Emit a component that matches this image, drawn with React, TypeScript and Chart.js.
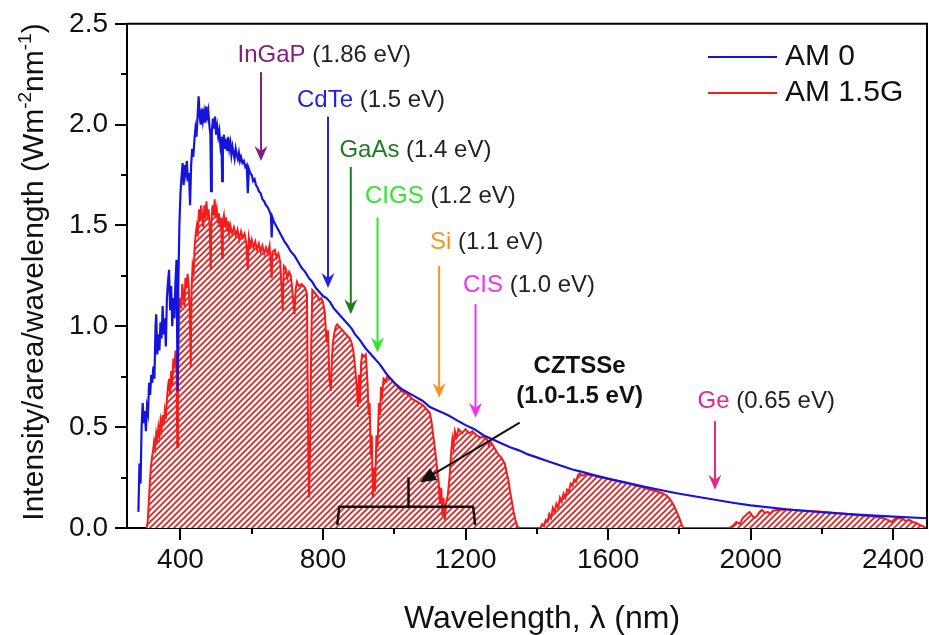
import React, { useEffect, useRef } from 'react';
import { Chart, registerables } from 'chart.js';
Chart.register(...registerables);

const FONT = "'Liberation Sans', Arial, Helvetica, sans-serif";

// ---- Data ----
const seriesLabels = ['AM 0', 'AM 1.5G'];

const am0Wavelengths = [
  282, 285, 288, 291, 294, 297, 300, 303, 306, 309, 312, 315, 318, 321, 324, 327, 330, 332, 335, 338,
  341, 344, 347, 350, 353, 356, 359, 362, 365, 368, 371, 374, 377, 380, 383, 386, 389, 392, 394, 397,
  400, 403, 406, 409, 412, 415, 418, 421, 424, 427, 430, 433, 436, 439, 442, 445, 448, 451, 454, 457,
  460, 463, 466, 469, 472, 475, 478, 481, 484, 486, 488, 491, 494, 497, 500, 503, 506, 509, 512, 515,
  517, 519, 522, 525, 528, 531, 534, 537, 540, 543, 546, 549, 552, 555, 558, 561, 564, 567, 570, 574,
  578, 582, 586, 589, 592, 596, 600, 604, 608, 612, 616, 620, 625, 630, 635, 640, 645, 650, 654, 656,
  658, 662, 668, 674, 680, 686, 692, 700, 710, 720, 730, 740, 750, 760, 770, 780, 790, 800, 810, 820,
  830, 840, 850, 860, 870, 880, 890, 900, 920, 940, 960, 980, 1000, 1020, 1040, 1060, 1080, 1100, 1125, 1150,
  1175, 1200, 1225, 1250, 1275, 1300, 1325, 1350, 1375, 1400, 1425, 1450, 1475, 1500, 1530, 1560, 1600, 1650, 1700, 1750,
  1800, 1850, 1900, 1950, 2000, 2100, 2200, 2300, 2400, 2500,
];
const am0Values = [
  0.08, 0.32, 0.22, 0.50, 0.62, 0.52, 0.58, 0.48, 0.60, 0.57, 0.72, 0.66, 0.76, 0.72, 0.80, 0.74, 1.00, 1.06, 0.86, 0.96,
  0.88, 1.02, 0.94, 1.10, 0.96, 1.04, 0.90, 1.14, 1.22, 1.28, 1.08, 1.20, 1.00, 1.14, 1.04, 1.22, 1.33, 0.68, 1.20, 1.50,
  1.66, 1.74, 1.81, 1.70, 1.80, 1.76, 1.82, 1.72, 1.76, 1.60, 1.80, 1.88, 1.84, 1.92, 1.98, 1.94, 2.04, 2.14, 2.04, 2.00,
  2.08, 2.02, 2.06, 2.01, 2.09, 2.04, 2.07, 2.00, 1.95, 1.67, 1.96, 2.03, 1.98, 2.04, 1.95, 1.99, 1.94, 1.97, 1.90, 1.94,
  1.72, 1.90, 1.95, 1.88, 1.93, 1.87, 1.94, 1.88, 1.91, 1.85, 1.89, 1.86, 1.83, 1.88, 1.85, 1.83, 1.86, 1.82, 1.84, 1.81,
  1.82, 1.79, 1.80, 1.66, 1.78, 1.76, 1.75, 1.72, 1.73, 1.70, 1.69, 1.67, 1.66, 1.63, 1.62, 1.60, 1.59, 1.57, 1.55, 1.44,
  1.54, 1.52, 1.50, 1.48, 1.46, 1.44, 1.42, 1.40, 1.37, 1.35, 1.32, 1.29, 1.27, 1.24, 1.22, 1.19, 1.17, 1.15, 1.14, 1.12,
  1.09, 1.07, 1.05, 1.03, 1.01, 0.99, 0.96, 0.94, 0.89, 0.85, 0.81, 0.76, 0.72, 0.69, 0.67, 0.65, 0.63, 0.60, 0.58, 0.56,
  0.535, 0.51, 0.49, 0.46, 0.44, 0.42, 0.40, 0.385, 0.365, 0.35, 0.335, 0.32, 0.305, 0.29, 0.277, 0.262, 0.245, 0.225, 0.205, 0.187,
  0.17, 0.155, 0.14, 0.125, 0.112, 0.093, 0.078, 0.066, 0.056, 0.048,
];

const am15Wavelengths = [
  305, 308, 311, 314, 317, 320, 323, 326, 329, 332, 335, 338, 341, 344, 347, 350, 353, 356, 359, 362,
  365, 368, 371, 374, 377, 380, 383, 386, 389, 391, 393, 396, 399, 402, 405, 408, 411, 414, 417, 420,
  423, 426, 429, 431, 434, 437, 440, 443, 446, 449, 452, 455, 458, 461, 464, 467, 470, 473, 476, 479,
  482, 485, 487, 490, 493, 496, 499, 502, 505, 508, 511, 514, 517, 519, 522, 525, 528, 531, 534, 537,
  540, 545, 550, 555, 560, 565, 570, 575, 580, 585, 589, 592, 596, 600, 605, 610, 615, 620, 625, 630,
  635, 640, 645, 650, 656, 658, 665, 670, 675, 680, 687, 690, 695, 700, 705, 710, 715, 720, 723, 727,
  732, 740, 745, 750, 755, 759, 761, 764, 767, 770, 775, 780, 785, 790, 795, 800, 805, 810, 814, 818,
  822, 825, 828, 832, 836, 840, 845, 850, 855, 860, 865, 870, 875, 880, 885, 890, 895, 898, 901, 904,
  907, 910, 915, 920, 925, 928, 931, 934, 937, 940, 943, 946, 950, 953, 957, 960, 963, 966, 970, 975,
  980, 990, 1000, 1010, 1020, 1030, 1040, 1050, 1060, 1070, 1080, 1090, 1100, 1105, 1110, 1115, 1120, 1125, 1128, 1132,
  1135, 1138, 1142, 1145, 1150, 1155, 1160, 1163, 1166, 1170, 1175, 1180, 1190, 1200, 1210, 1220, 1230, 1240, 1250, 1260,
  1265, 1270, 1280, 1290, 1300, 1310, 1315, 1320, 1325, 1330, 1335, 1340, 1345, 1350, 1410, 1415, 1420, 1425, 1430, 1435,
  1440, 1445, 1450, 1455, 1460, 1465, 1470, 1475, 1480, 1485, 1490, 1495, 1500, 1505, 1510, 1515, 1520, 1530, 1540, 1550,
  1560, 1570, 1580, 1590, 1600, 1620, 1640, 1660, 1680, 1700, 1720, 1740, 1755, 1765, 1775, 1785, 1795, 1802, 1808, 1812,
  1940, 1950, 1960, 1970, 1978, 1985, 1990, 1997, 2005, 2010, 2018, 2025, 2032, 2040, 2048, 2055, 2062, 2070, 2080, 2090,
  2110, 2130, 2150, 2170, 2190, 2210, 2230, 2250, 2270, 2290, 2310, 2330, 2350, 2370, 2385, 2395, 2405, 2415, 2425, 2435,
  2445, 2455, 2465, 2475, 2485, 2492,
];
const am15Values = [
  0.00, 0.03, 0.12, 0.22, 0.30, 0.35, 0.38, 0.43, 0.40, 0.47, 0.44, 0.50, 0.46, 0.53, 0.49, 0.56, 0.51, 0.58, 0.54, 0.64,
  0.70, 0.74, 0.66, 0.78, 0.71, 0.84, 0.79, 0.88, 0.82, 0.40, 0.72, 1.06, 1.14, 1.09, 1.21, 1.16, 1.10, 1.24, 1.19, 1.26,
  1.21, 1.08, 0.80, 1.18, 1.30, 1.27, 1.40, 1.46, 1.50, 1.47, 1.58, 1.52, 1.60, 1.55, 1.49, 1.60, 1.56, 1.62, 1.53, 1.58,
  1.50, 1.28, 1.52, 1.60, 1.55, 1.63, 1.54, 1.58, 1.51, 1.56, 1.49, 1.54, 1.34, 1.52, 1.55, 1.49, 1.54, 1.47, 1.52, 1.46,
  1.50, 1.46, 1.49, 1.45, 1.48, 1.43, 1.47, 1.44, 1.46, 1.41, 1.28, 1.44, 1.40, 1.43, 1.39, 1.42, 1.38, 1.41, 1.37, 1.40,
  1.36, 1.39, 1.36, 1.40, 1.24, 1.37, 1.38, 1.34, 1.36, 1.32, 1.08, 1.30, 1.29, 1.24, 1.27, 1.25, 1.16, 1.06, 1.18, 1.22,
  1.20, 1.21, 1.20, 1.19, 1.16, 0.32, 0.15, 0.42, 0.92, 1.18, 1.17, 1.16, 1.15, 1.13, 1.14, 1.12, 1.07, 0.92, 0.98, 0.74,
  0.68, 0.84, 0.92, 0.97, 1.00, 1.01, 1.00, 0.99, 0.98, 0.97, 0.96, 0.95, 0.94, 0.92, 0.88, 0.80, 0.70, 0.60, 0.76, 0.62,
  0.82, 0.86, 0.85, 0.86, 0.72, 0.56, 0.62, 0.36, 0.46, 0.15, 0.30, 0.18, 0.46, 0.40, 0.62, 0.56, 0.70, 0.66, 0.74, 0.73,
  0.75, 0.74, 0.72, 0.70, 0.68, 0.67, 0.66, 0.64, 0.63, 0.62, 0.61, 0.59, 0.57, 0.52, 0.45, 0.38, 0.30, 0.22, 0.12, 0.20,
  0.06, 0.15, 0.04, 0.12, 0.16, 0.25, 0.38, 0.44, 0.40, 0.48, 0.45, 0.49, 0.47, 0.49, 0.47, 0.48, 0.46, 0.45, 0.45, 0.44,
  0.41, 0.43, 0.40, 0.37, 0.35, 0.32, 0.28, 0.24, 0.18, 0.13, 0.08, 0.04, 0.01, 0.00, 0.00, 0.02, 0.01, 0.04, 0.03, 0.07,
  0.05, 0.10, 0.08, 0.12, 0.10, 0.15, 0.13, 0.17, 0.15, 0.19, 0.18, 0.22, 0.21, 0.24, 0.23, 0.26, 0.27, 0.26, 0.27, 0.26,
  0.262, 0.255, 0.25, 0.248, 0.243, 0.235, 0.228, 0.22, 0.21, 0.20, 0.19, 0.18, 0.17, 0.16, 0.14, 0.11, 0.07, 0.04, 0.01, 0.00,
  0.00, 0.01, 0.03, 0.02, 0.05, 0.06, 0.07, 0.08, 0.06, 0.05, 0.06, 0.08, 0.09, 0.075, 0.08, 0.07, 0.085, 0.088, 0.09, 0.092,
  0.09, 0.088, 0.086, 0.084, 0.082, 0.079, 0.076, 0.073, 0.07, 0.066, 0.062, 0.06, 0.056, 0.05, 0.04, 0.03, 0.045, 0.05, 0.048, 0.035,
  0.04, 0.03, 0.025, 0.015, 0.008, 0.00,
];

const xTickValues = [400, 800, 1200, 1600, 2000, 2400];
const xMinorTickValues = [600, 1000, 1400, 1800, 2200];
const yTickValues = [0, 0.5, 1.0, 1.5, 2.0, 2.5];
const yMinorTickValues = [0.25, 0.75, 1.25, 1.75, 2.25];

// band-gap annotations (anchored in data units)
const gapNames = ['InGaP', 'CdTe', 'GaAs', 'CIGS', 'Si', 'CIS', 'Ge'];
const gapEnergies = ['(1.86 eV)', '(1.5 eV)', '(1.4 eV)', '(1.2 eV)', '(1.1 eV)', '(1.0 eV)', '(0.65 eV)'];
const gapColors = ['#7f1f80', '#2323e6', '#1d7d1d', '#2ee62e', '#f7941e', '#f032f0', '#e8268a'];
const gapArrowX = [626, 814, 878, 953, 1126, 1228, 1900];
const gapArrowTop = [2.26, 2.04, 1.79, 1.54, 1.30, 1.11, 0.53];
const gapArrowTip = [1.82, 1.19, 1.06, 0.87, 0.645, 0.547, 0.19];
const gapLabelX = [560, 727, 846, 918, 1100, 1193, 1851];
const gapLabelY = [2.343, 2.118, 1.873, 1.644, 1.418, 1.202, 0.629];

const cztsLines = ['CZTSSe', '(1.0-1.5 eV)'];
const cztsTextX = 1520;
const cztsTextY = [0.80, 0.653];
const cztsArrowFrom = [1352, 0.522];
const cztsArrowTo = [1072, 0.227];
const bracketFrom = 840;
const bracketTo = 1227;
const bracketMid = 1040;
const bracketY = 0.105;
const bracketEndY = 0.015;
const bracketPeakY = 0.252;

function makeHatch(): CanvasPattern | string {
  const s = 6;
  const c = document.createElement('canvas');
  c.width = s;
  c.height = s;
  const g = c.getContext('2d');
  if (!g) return 'rgba(200,40,40,0.4)';
  g.fillStyle = '#fff4f4';
  g.fillRect(0, 0, s, s);
  g.strokeStyle = '#bb2e2e';
  g.lineWidth = 1.6;
  g.beginPath();
  g.moveTo(0, s); g.lineTo(s, 0);
  g.moveTo(-s / 2, s / 2); g.lineTo(s / 2, -s / 2);
  g.moveTo(s / 2, s * 1.5); g.lineTo(s * 1.5, s / 2);
  g.stroke();
  return g.createPattern(c, 'repeat') || 'rgba(200,40,40,0.4)';
}

function arrowHead(ctx: CanvasRenderingContext2D, x: number, y: number, ang: number, len: number, half: number, notch: number) {
  ctx.save();
  ctx.translate(x, y);
  ctx.rotate(ang);
  ctx.beginPath();
  ctx.moveTo(0, 0);
  ctx.lineTo(-len, -half);
  ctx.lineTo(-len + notch, 0);
  ctx.lineTo(-len, half);
  ctx.closePath();
  ctx.fill();
  ctx.restore();
}

const overlayPlugin = {
  id: 'overlay',
  afterDraw(chart: any) {
    const { ctx, chartArea: a, scales } = chart;
    const xs = scales.x;
    const ys = scales.y;
    const px = (v: number) => xs.getPixelForValue(v);
    const py = (v: number) => ys.getPixelForValue(v);
    ctx.save();

    // frame top/right
    ctx.strokeStyle = '#000';
    ctx.lineWidth = 2;
    ctx.beginPath();
    ctx.moveTo(a.left, a.top);
    ctx.lineTo(a.right, a.top);
    ctx.lineTo(a.right, a.bottom);
    ctx.stroke();

    // minor ticks
    ctx.beginPath();
    xMinorTickValues.forEach((v) => {
      const X = Math.round(px(v));
      ctx.moveTo(X, a.bottom);
      ctx.lineTo(X, a.bottom + 6);
    });
    yMinorTickValues.forEach((v) => {
      const Y = Math.round(py(v));
      ctx.moveTo(a.left, Y);
      ctx.lineTo(a.left - 6, Y);
    });
    ctx.stroke();

    // band-gap arrows & labels
    ctx.textBaseline = 'middle';
    ctx.textAlign = 'left';
    gapNames.forEach((name, i) => {
      const col = gapColors[i];
      const X = px(gapArrowX[i]);
      const y0 = py(gapArrowTop[i]);
      const y1 = py(gapArrowTip[i]);
      ctx.strokeStyle = col;
      ctx.fillStyle = col;
      ctx.lineWidth = 2;
      ctx.beginPath();
      ctx.moveTo(X, y0);
      ctx.lineTo(X, y1 - 8);
      ctx.stroke();
      arrowHead(ctx, X, y1, Math.PI / 2, 15, 6.5, 5);
      ctx.font = `24px ${FONT}`;
      const lx = px(gapLabelX[i]);
      const ly = py(gapLabelY[i]);
      ctx.fillText(name, lx, ly);
      const w = ctx.measureText(name + ' ').width;
      ctx.fillStyle = '#222';
      ctx.fillText(gapEnergies[i], lx + w, ly);
    });

    // CZTSSe
    ctx.fillStyle = '#111';
    ctx.textAlign = 'center';
    ctx.font = `bold 24px ${FONT}`;
    cztsLines.forEach((t, i) => ctx.fillText(t, px(cztsTextX), py(cztsTextY[i])));
    const ax0 = px(cztsArrowFrom[0]);
    const ay0 = py(cztsArrowFrom[1]);
    const ax1 = px(cztsArrowTo[0]);
    const ay1 = py(cztsArrowTo[1]);
    const ang = Math.atan2(ay1 - ay0, ax1 - ax0);
    ctx.strokeStyle = '#111';
    ctx.lineWidth = 2;
    ctx.beginPath();
    ctx.moveTo(ax0, ay0);
    ctx.lineTo(ax1 - Math.cos(ang) * 10, ay1 - Math.sin(ang) * 10);
    ctx.stroke();
    arrowHead(ctx, ax1, ay1, ang, 16, 7, 0);

    // bracket
    ctx.lineWidth = 2.5;
    ctx.lineJoin = 'round';
    ctx.beginPath();
    ctx.moveTo(px(bracketFrom), py(bracketEndY));
    ctx.lineTo(px(bracketFrom) + 2, py(bracketY));
    ctx.lineTo(px(bracketTo) - 2, py(bracketY));
    ctx.lineTo(px(bracketTo), py(bracketEndY));
    ctx.moveTo(px(bracketMid), py(bracketY));
    ctx.lineTo(px(bracketMid), py(bracketPeakY));
    ctx.stroke();

    // legend
    const ds = chart.data.datasets;
    ctx.textAlign = 'left';
    ctx.font = `30px ${FONT}`;
    ds.forEach((d: any, i: number) => {
      const Y = 57 + i * 36;
      ctx.strokeStyle = d.borderColor;
      ctx.lineWidth = 2;
      ctx.beginPath();
      ctx.moveTo(708, Y);
      ctx.lineTo(777, Y);
      ctx.stroke();
      ctx.fillStyle = '#111';
      ctx.fillText(d.label, 785, Y);
    });

    // axis titles
    ctx.fillStyle = '#111';
    ctx.textAlign = 'center';
    ctx.textBaseline = 'alphabetic';
    ctx.font = `32px ${FONT}`;
    ctx.fillText('Wavelength, \u03bb (nm)', 542, 628);

    ctx.save();
    ctx.translate(43, 272);
    ctx.rotate(-Math.PI / 2);
    const mainF = `30px ${FONT}`;
    const supF = `19px ${FONT}`;
    const parts: [string, string, number][] = [
      ['Intensity/area/wavelength (Wm', mainF, 0],
      ['-2', supF, -12],
      ['nm', mainF, 0],
      ['-1', supF, -12],
      [')', mainF, 0],
    ];
    let total = 0;
    const widths = parts.map(([t, f]) => {
      ctx.font = f;
      const w = ctx.measureText(t).width;
      total += w;
      return w;
    });
    let cx = -total / 2;
    ctx.textAlign = 'left';
    parts.forEach(([t, f, dy], i) => {
      ctx.font = f;
      ctx.fillText(t, cx, dy);
      cx += widths[i];
    });
    ctx.restore();

    ctx.restore();
  },
};

export default function App() {
  const ref = useRef<HTMLCanvasElement | null>(null);
  useEffect(() => {
    const canvas = ref.current;
    if (!canvas) return;
    const hatch = makeHatch();
    const tickFont = { family: FONT, size: 28 };
    const chart = new Chart(canvas, {
      type: 'line',
      data: {
        datasets: [
          {
            label: seriesLabels[0],
            data: am0Wavelengths.map((w, i) => ({ x: w, y: am0Values[i] })),
            borderColor: '#1414dc',
            borderWidth: 2.2,
            pointRadius: 0,
            fill: false,
            tension: 0,
          },
          {
            label: seriesLabels[1],
            data: am15Wavelengths.map((w, i) => ({ x: w, y: am15Values[i] })),
            borderColor: '#f51c1c',
            borderWidth: 2,
            pointRadius: 0,
            fill: 'origin',
            backgroundColor: hatch as any,
            tension: 0,
          },
        ],
      },
      options: {
        responsive: false,
        animation: false,
        events: [],
        layout: { padding: { top: 19, right: 2, left: 0, bottom: 0 } },
        plugins: { legend: { display: false }, tooltip: { enabled: false }, title: { display: false } },
        scales: {
          x: {
            type: 'linear',
            min: 250,
            max: 2495,
            afterBuildTicks: (s: any) => {
              s.ticks = xTickValues.map((v) => ({ value: v }));
            },
            afterFit: (s: any) => {
              s.height = 107;
            },
            ticks: {
              font: tickFont,
              color: '#111',
              padding: 3,
              maxRotation: 0,
              autoSkip: false,
              callback: (v: any) => String(v),
            },
            grid: { display: true, drawOnChartArea: false, drawTicks: true, tickLength: 12, color: '#000', lineWidth: 2 },
            border: { display: true, color: '#000', width: 2 },
          },
          y: {
            type: 'linear',
            min: 0,
            max: 2.5,
            afterBuildTicks: (s: any) => {
              s.ticks = yTickValues.map((v) => ({ value: v }));
            },
            afterFit: (s: any) => {
              s.width = 127;
            },
            ticks: {
              font: tickFont,
              color: '#111',
              padding: 7,
              autoSkip: false,
              callback: (v: any) => Number(v).toFixed(1),
            },
            grid: { display: true, drawOnChartArea: false, drawTicks: true, tickLength: 12, color: '#000', lineWidth: 2 },
            border: { display: true, color: '#000', width: 2 },
          },
        },
      },
      plugins: [overlayPlugin],
    });
    return () => chart.destroy();
  }, []);
  return (
    <div style={{ position: 'absolute', left: 0, top: 0, width: 929, height: 635, background: '#fff' }}>
      <canvas ref={ref} width={929} height={635} style={{ width: 929, height: 635, display: 'block' }} />
    </div>
  );
}
